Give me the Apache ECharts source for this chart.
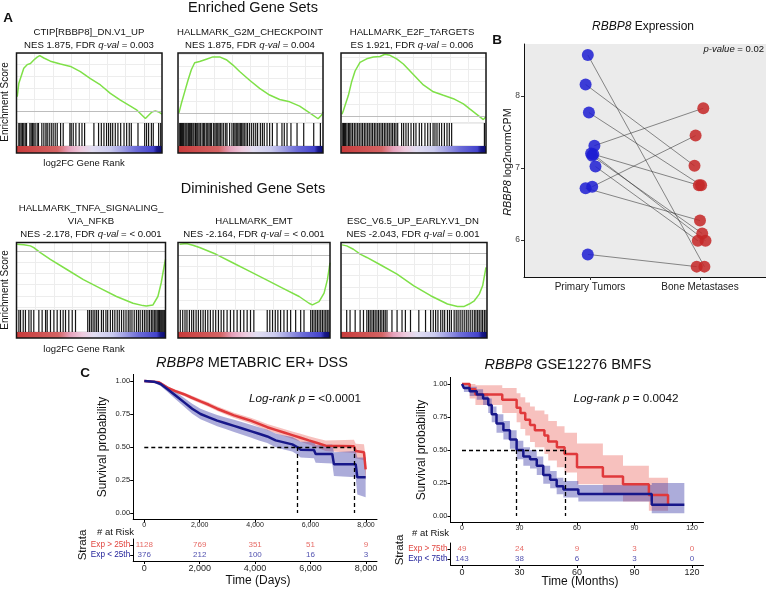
<!DOCTYPE html>
<html><head><meta charset="utf-8">
<script src="https://cdn.jsdelivr.net/npm/echarts@6/dist/echarts.min.js"></script>
<style>html,body{margin:0;padding:0;background:#fff}#c{width:766px;height:589px}</style>
</head><body><div id="c"></div>
<script>
// ======================= DATA =======================
// ---- Panel A: GSEA running enrichment scores (rank 0..1000) ----
const gsea1X = [5,16,32,50,73,96,119,142,160,188,233,302,371,439,508,577,645,714,783,828,863,886,908,931,954,977,1000];
const gsea1Y = [0.125,0.24,0.30,0.37,0.40,0.41,0.44,0.465,0.477,0.457,0.43,0.405,0.385,0.34,0.28,0.226,0.154,0.096,0.044,0.01,-0.034,-0.062,-0.034,-0.005,0.004,-0.005,-0.025];
const gsea2X = [5,23,46,69,92,115,149,195,241,287,333,379,425,494,563,632,701,770,839,908,966,989,1000];
const gsea2Y = [-0.006,0.08,0.18,0.28,0.37,0.43,0.44,0.46,0.48,0.48,0.456,0.41,0.355,0.28,0.21,0.153,0.115,0.095,0.058,0.0,-0.05,-0.02,0.009];
const gsea3X = [7,16,51,74,97,131,177,223,269,303,338,384,430,499,568,637,706,775,844,890,936,982,998];
const gsea3Y = [0.015,0.045,0.178,0.297,0.386,0.46,0.49,0.505,0.51,0.529,0.52,0.49,0.446,0.356,0.267,0.208,0.178,0.149,0.104,0.059,0.015,-0.03,-0.006];
const gsea4X = [4,49,93,116,160,227,338,449,560,671,782,849,871,916,949,971,993,1000];
const gsea4Y = [0.06,0.054,0.045,0.03,-0.015,-0.075,-0.165,-0.255,-0.33,-0.405,-0.465,-0.486,-0.489,-0.48,-0.405,-0.285,-0.12,-0.075];
const gsea5X = [11,55,98,142,251,360,469,579,688,797,862,884,928,961,983,1000];
const gsea5Y = [0.099,0.105,0.09,0.069,0.009,-0.066,-0.141,-0.216,-0.291,-0.366,-0.426,-0.441,-0.411,-0.336,-0.216,-0.066];
const gsea6X = [7,39,85,131,177,269,384,499,614,729,798,844,878,913,947,970,993];
const gsea6Y = [0.074,0.065,0.035,-0.009,-0.038,-0.103,-0.186,-0.29,-0.378,-0.452,-0.473,-0.473,-0.452,-0.423,-0.364,-0.29,-0.127];

// hit positions (gene ranks 0..1000)
const gsea1Hits = [16,23,32,41,50,60,69,92,101,110,119,128,142,151,174,188,202,211,225,239,252,266,280,303,321,367,376,390,408,431,450,468,532,564,583,601,619,633,647,661,679,697,716,739,757,775,789,835,881,894,908,927,940,977,991];
const gsea2Hits = [12,18,25,32,39,48,55,62,71,78,85,94,103,110,120,126,136,145,154,166,175,184,195,205,214,223,232,246,255,264,274,283,292,303,315,329,338,356,372,384,393,402,412,421,430,439,448,457,469,480,494,508,522,536,549,568,582,595,614,632,651,683,717,733,752,779,821,867,936,982];
const gsea3Hits = [12,18,25,32,41,51,60,69,80,92,103,115,126,138,149,161,172,184,195,207,218,230,241,253,264,276,287,299,310,322,333,345,356,368,379,391,418,432,448,464,483,501,517,540,556,579,598,616,635,648,662,678,694,713,731,747,763,989];
const gsea4Hits = [16,27,45,60,83,98,116,150,172,195,206,228,251,273,295,313,329,351,374,396,478,490,502,514,526,538,550,570,583,600,612,630,645,660,676,690,705,720,735,750,762,775,790,805,818,830,845,858,870,882,893,905,915,925,935,944,952,960,968,975,982,989,995];
const gsea5Hits = [15,31,46,59,75,90,103,119,134,149,165,180,196,213,231,248,266,284,301,323,345,367,389,411,433,455,477,499,587,604,622,640,657,675,697,719,741,774,807,829,873,884,895,906,917,928,939,950,961,972,982,993];
const gsea6Hits = [39,62,97,131,154,177,189,200,212,223,234,246,257,269,280,292,303,315,349,384,418,441,476,533,579,614,632,648,664,683,697,710,729,743,756,775,789,802,816,830,844,858,871,885,899,913,924,936,947,959,970,982,993];

const gseaSetNames = [
  ['CTIP[RBBP8]_DN.V1_UP', 'NES 1.875, FDR {i|q-val} = 0.003'],
  ['HALLMARK_G2M_CHECKPOINT', 'NES 1.875, FDR {i|q-val} = 0.004'],
  ['HALLMARK_E2F_TARGETS', 'ES 1.921, FDR {i|q-val} = 0.006'],
  ['HALLMARK_TNFA_SIGNALING_', 'VIA_NFKB', 'NES -2.178, FDR {i|q-val} = < 0.001'],
  ['HALLMARK_EMT', 'NES -2.164, FDR {i|q-val} = < 0.001'],
  ['ESC_V6.5_UP_EARLY.V1_DN', 'NES -2.043, FDR {i|q-val} = 0.001']
];

// ---- Panel B: RBBP8 expression, paired samples ----
const groupNames = ['Primary Tumors', 'Bone Metastases'];
const primaryVals = [8.57, 8.16, 7.77, 7.31, 7.20, 7.17, 7.19, 7.02, 6.74, 6.72, 5.80];
const primaryPos  = [0.98, 0.96, 0.99, 1.04, 1.01, 1.02, 1.03, 1.05, 1.02, 0.96, 0.98];
const boneVals    = [5.63, 7.03, 6.76, 7.83, 6.76, 6.09, 5.99, 5.99, 7.45, 6.27, 5.63];
const bonePos     = [2.04, 1.95, 2.01, 2.03, 1.99, 2.02, 2.05, 1.98, 1.96, 2.00, 1.97];
const exprTicks = [6, 7, 8];

// ---- Panel C left: METABRIC ER+ DSS (days) ----
const metHighT  = [0,530,830,1100,1430,1700,2030,2330,2630,2930,3240,3540,3840,4140,4440,4740,5040,5340,5640,5940,6245,6545,7570,7630,7930,7990,8000];
const metHighS  = [1.0,0.99,0.95,0.925,0.90,0.875,0.846,0.82,0.79,0.765,0.74,0.72,0.70,0.675,0.65,0.63,0.61,0.59,0.57,0.55,0.53,0.51,0.505,0.47,0.46,0.33,0.33];
const metHighLo = [1.0,0.985,0.94,0.913,0.887,0.86,0.83,0.803,0.772,0.746,0.72,0.699,0.678,0.652,0.626,0.605,0.583,0.562,0.54,0.518,0.495,0.47,0.455,0.415,0.40,0.25,0.25];
const metHighHi = [1.0,0.995,0.96,0.937,0.913,0.89,0.862,0.837,0.808,0.784,0.76,0.741,0.722,0.698,0.674,0.655,0.637,0.618,0.60,0.582,0.565,0.55,0.555,0.525,0.52,0.42,0.42];
const metLowT   = [0,350,590,830,1130,1430,1730,2030,2330,2630,2935,3240,3540,3840,4140,4440,4740,5040,5340,5520,5640,6125,6185,6785,6845,7630,7690,7990];
const metLowS   = [1.0,0.995,0.977,0.94,0.89,0.84,0.79,0.75,0.725,0.70,0.68,0.66,0.64,0.62,0.60,0.58,0.55,0.535,0.52,0.50,0.48,0.477,0.447,0.447,0.37,0.37,0.27,0.27];
const metLowLo  = [1.0,0.99,0.962,0.918,0.862,0.806,0.752,0.71,0.684,0.658,0.636,0.614,0.593,0.572,0.55,0.53,0.498,0.482,0.465,0.443,0.42,0.415,0.38,0.375,0.28,0.27,0.14,0.12];
const metLowHi  = [1.0,1.0,0.992,0.962,0.918,0.874,0.828,0.79,0.766,0.742,0.724,0.706,0.687,0.668,0.65,0.63,0.602,0.588,0.575,0.557,0.54,0.539,0.514,0.519,0.46,0.47,0.42,0.42];
const metMedians = [5520, 7570];
const metTicks = [0, 2000, 4000, 6000, 8000];
const metRiskHigh = [1128, 769, 351, 51, 9];
const metRiskLow  = [376, 212, 100, 16, 3];
const metStrata = ['Exp < 25th', 'Exp > 25th'];

// ---- Panel C right: GSE12276 BMFS (months) ----
const gseHighT  = [0,4,7,21,28.5,30.5,33,35.5,38,43,45,49.5,53.5,60,73.5,84,97.5,107.5];
const gseHighS  = [1.0,0.96,0.92,0.88,0.82,0.78,0.73,0.69,0.65,0.61,0.565,0.52,0.47,0.37,0.30,0.24,0.16,0.08];
const gseHighLo = [1.0,0.89,0.84,0.78,0.71,0.66,0.61,0.56,0.52,0.47,0.42,0.37,0.33,0.24,0.17,0.11,0.04,0.0];
const gseHighHi = [1.0,1.0,0.99,0.97,0.93,0.90,0.86,0.83,0.80,0.77,0.72,0.68,0.63,0.55,0.46,0.38,0.29,0.29];
const gseLowT   = [0,1,4,7.7,11,13.7,15.5,18,21.6,25,28.5,32,35.5,39,42.4,46,49.4,52.9,60.7,99,116];
const gseLowS   = [1.0,0.97,0.945,0.92,0.89,0.84,0.77,0.70,0.65,0.58,0.50,0.45,0.43,0.38,0.31,0.275,0.225,0.20,0.167,0.086,0.086];
const gseLowLo  = [1.0,0.94,0.91,0.88,0.84,0.78,0.71,0.63,0.58,0.51,0.43,0.38,0.36,0.31,0.245,0.21,0.165,0.14,0.11,0.02,0.02];
const gseLowHi  = [1.0,1.0,0.98,0.96,0.93,0.89,0.83,0.77,0.72,0.65,0.57,0.52,0.50,0.45,0.38,0.34,0.29,0.265,0.235,0.25,0.25];
const gseMedians = [28.3, 53.8];
const gseTicks = [0, 30, 60, 90, 120];
const gseRiskHigh = [49, 24, 9, 3, 0];
const gseRiskLow  = [143, 38, 6, 3, 0];
const gseStrata = ['Exp < 75th', 'Exp > 75th'];

const survTicks = [0, 0.25, 0.5, 0.75, 1];
const medianLevel = 0.5;

// ======================= BUILD =======================
const FONT = '"Liberation Sans", Arial, Helvetica, sans-serif';
const grids = [], xAxis = [], yAxis = [], series = [], graphics = [];
function addGrid(g, xa, ya) {
  const i = grids.length;
  grids.push(g);
  xAxis.push(Object.assign({gridIndex: i}, xa));
  yAxis.push(Object.assign({gridIndex: i}, ya));
  return i;
}
const hid = (min, max) => ({type: 'value', min, max, show: false, splitLine: {show: false}});
function T(x, y, text, size, o) {
  o = o || {};
  const fill = o.color || '#111';
  const style = {text, fontSize: size, fontFamily: FONT, fontWeight: o.bold ? 'bold' : 'normal',
    fontStyle: o.italic ? 'italic' : 'normal', fill, align: o.align || 'center', verticalAlign: 'middle'};
  style.rich = {i: {fontSize: size, fontFamily: FONT, fontStyle: 'italic', fill}};
  graphics.push({type: 'text', x, y, rotation: o.rot || 0, style, z: 100, silent: true});
}

// ---------- Panel A ----------
const gseaX = [gsea1X, gsea2X, gsea3X, gsea4X, gsea5X, gsea6X];
const gseaY = [gsea1Y, gsea2Y, gsea3Y, gsea4Y, gsea5Y, gsea6Y];
const gseaHits = [gsea1Hits, gsea2Hits, gsea3Hits, gsea4Hits, gsea5Hits, gsea6Hits];
const gseaLayout = [
  {x: 16.5, w: 145.5, top: 53, curveH: 70, hitsH: 23, barH: 7, ymin: -0.1, ymax: 0.5},
  {x: 178, w: 145, top: 53, curveH: 70, hitsH: 23, barH: 7, ymin: -0.0865, ymax: 0.5135},
  {x: 341, w: 145, top: 53, curveH: 70, hitsH: 23, barH: 7, ymin: -0.059, ymax: 0.54},
  {x: 16.5, w: 149, top: 242.5, curveH: 67.5, hitsH: 22, barH: 6, ymin: -0.525, ymax: 0.075},
  {x: 178, w: 152, top: 242.5, curveH: 67.5, hitsH: 22, barH: 6, ymin: -0.486, ymax: 0.114},
  {x: 341, w: 146, top: 242.5, curveH: 67.5, hitsH: 22, barH: 6, ymin: -0.505, ymax: 0.095}
];
const rankStops = [
  [0, '#c83a3a'], [0.28, '#d46464'], [0.36, '#e6a2bc'], [0.44, '#eecadd'], [0.52, '#e2def2'],
  [0.64, '#cbcbef'], [0.72, '#a3a3e4'], [0.82, '#6c6cd8'], [0.94, '#4343cc'], [0.965, '#18188a'], [1, '#0a0a6e']
];
gseaLayout.forEach((L, k) => {
  const ci = addGrid({left: L.x, top: L.top, width: L.w, height: L.curveH},
    {type: 'value', min: 0, max: 1000, interval: 125, axisLine: {show: false}, axisTick: {show: false},
     axisLabel: {show: false}, splitLine: {show: true, lineStyle: {color: '#ededed', width: 1}}},
    {type: 'value', min: L.ymin, max: L.ymax, splitNumber: 6, axisLine: {show: false}, axisTick: {show: false},
     axisLabel: {show: false}, splitLine: {show: true, lineStyle: {color: '#ededed', width: 1}}});
  series.push({type: 'line', xAxisIndex: ci, yAxisIndex: ci, symbol: 'none', silent: true, z: 3,
    data: gseaX[k].map((x, i) => [x, gseaY[k][i]]),
    lineStyle: {color: '#7fe048', width: 1.5},
    markLine: {silent: true, symbol: 'none', label: {show: false}, animation: false,
      lineStyle: {color: '#bdbdbd', type: 'solid', width: 1}, data: [{yAxis: 0}]}});
  const hi = addGrid({left: L.x, top: L.top + L.curveH, width: L.w, height: L.hitsH, show: true,
      borderColor: '#d0d0d0', borderWidth: 1}, hid(0, 1000), hid(0, 1));
  series.push({type: 'custom', xAxisIndex: hi, yAxisIndex: hi, silent: true, z: 3,
    data: gseaHits[k].map(h => [h, 1]),
    renderItem: (p, api) => {
      const a = api.coord([api.value(0), 0]), b = api.coord([api.value(0), 1]);
      return {type: 'line', shape: {x1: a[0], y1: a[1], x2: b[0], y2: b[1]},
        style: {stroke: '#000', lineWidth: 1.2, opacity: 0.92}};
    }});
  const bi = addGrid({left: L.x, top: L.top + L.curveH + L.hitsH, width: L.w, height: L.barH}, hid(0, 1000), hid(0, 1));
  series.push({type: 'custom', xAxisIndex: bi, yAxisIndex: bi, silent: true, z: 3,
    data: [[0, 1000]],
    renderItem: (p, api) => {
      const a = api.coord([api.value(0), 1]), b = api.coord([api.value(1), 0]);
      return {type: 'rect', shape: {x: a[0], y: a[1], width: b[0] - a[0], height: b[1] - a[1]},
        style: {fill: new echarts.graphic.LinearGradient(0, 0, 1, 0,
          rankStops.map(s => ({offset: s[0], color: s[1]})))}};
    }});
  addGrid({left: L.x, top: L.top, width: L.w, height: L.curveH + L.hitsH + L.barH, show: true,
    borderColor: '#161616', borderWidth: 1.5, backgroundColor: 'transparent', z: 10}, hid(0, 1), hid(0, 1));
});

// Panel A texts
T(8, 18, 'A', 13.5, {bold: true});
T(253, 8, 'Enriched Gene Sets', 14.5);
T(253, 189, 'Diminished Gene Sets', 14.5);
const gseaTitlePos = [[89, [32, 45]], [250, [32, 45]], [412, [32, 45]], [91, [208, 221, 234]], [254, [221, 234]], [413, [221, 234]]];
gseaSetNames.forEach((lines, k) => {
  lines.forEach((s, j) => T(gseaTitlePos[k][0], gseaTitlePos[k][1][j], s, 9.6));
});
T(5, 102, 'Enrichment Score', 10, {rot: Math.PI / 2});
T(5, 290, 'Enrichment Score', 10, {rot: Math.PI / 2});
T(84, 163, 'log2FC Gene Rank', 9.5);
T(84, 349, 'log2FC Gene Rank', 9.5);

// ---------- Panel B ----------
const gb = addGrid({left: 524, top: 44, width: 242, height: 233, show: true, backgroundColor: '#ebebeb', borderWidth: 0},
  {type: 'value', min: 0.4, max: 2.6,
   axisLine: {show: true, onZero: false, lineStyle: {color: '#111', width: 1}},
   axisTick: {show: true, customValues: [1, 2], length: 3, lineStyle: {color: '#333'}},
   axisLabel: {customValues: [1, 2], formatter: v => groupNames[Math.round(v) - 1], fontSize: 10, color: '#222', margin: 5, fontFamily: FONT},
   splitLine: {show: false}},
  {type: 'value', min: 5.486, max: 8.722,
   axisLine: {show: true, onZero: false, lineStyle: {color: '#111', width: 1}},
   axisTick: {show: true, customValues: exprTicks, length: 3, lineStyle: {color: '#333'}},
   axisLabel: {customValues: exprTicks, fontSize: 8.5, color: '#444', margin: 4, fontFamily: FONT},
   splitLine: {show: false}});
series.push({type: 'lines', coordinateSystem: 'cartesian2d', xAxisIndex: gb, yAxisIndex: gb, silent: true, z: 2,
  data: primaryVals.map((v, i) => ({coords: [[primaryPos[i], v], [bonePos[i], boneVals[i]]]})),
  lineStyle: {color: '#2a2a2a', width: 0.6, opacity: 0.9}});
series.push({type: 'scatter', xAxisIndex: gb, yAxisIndex: gb, symbolSize: 12, z: 3,
  data: primaryVals.map((v, i) => [primaryPos[i], v]), itemStyle: {color: '#1d1dd2', opacity: 0.85}});
series.push({type: 'scatter', xAxisIndex: gb, yAxisIndex: gb, symbolSize: 12, z: 3,
  data: boneVals.map((v, i) => [bonePos[i], v]), itemStyle: {color: '#c42626', opacity: 0.85}});
T(497, 40, 'B', 13.5, {bold: true});
T(643, 27, '{i|RBBP8} Expression', 12);
T(764, 49, '{i|p-value} = 0.02', 9.5, {align: 'right'});
T(508, 162, '{i|RBBP8} log2normCPM', 10.8, {rot: Math.PI / 2});

// ---------- Panel C ----------
function band(gi, Tm, lo, hi, color, op, stepped) {
  return {type: 'custom', xAxisIndex: gi, yAxisIndex: gi, silent: true, clip: true, z: 1,
    data: [[Tm[0], lo[0]]],
    renderItem: (p, api) => {
      const up = [], dn = [];
      for (let i = 0; i < Tm.length; i++) {
        up.push(api.coord([Tm[i], hi[i]]));
        dn.push(api.coord([Tm[i], lo[i]]));
        if (stepped) {
          const tn = i < Tm.length - 1 ? Tm[i + 1] : Tm[i];
          up.push(api.coord([tn, hi[i]]));
          dn.push(api.coord([tn, lo[i]]));
        }
      }
      return {type: 'polygon', shape: {points: up.concat(dn.reverse())}, style: {fill: color, opacity: op}};
    }};
}
function kmPanel(L, D) {
  const xa = (fs, margin) => ({type: 'value', min: L.xmin, max: L.xmax,
    axisLine: {show: true, onZero: false, lineStyle: {color: '#000', width: 1}},
    axisTick: {show: true, customValues: D.ticks, length: 3, lineStyle: {color: '#000'}},
    axisLabel: {customValues: D.ticks, fontSize: fs, color: '#222', margin, fontFamily: FONT},
    splitLine: {show: false}});
  const mi = addGrid({left: L.left, top: L.top, width: L.w, height: L.h}, xa(7, 2),
    {type: 'value', min: -0.05, max: 1.05,
     axisLine: {show: true, onZero: false, lineStyle: {color: '#000', width: 1}},
     axisTick: {show: true, customValues: survTicks, length: 3, lineStyle: {color: '#000'}},
     axisLabel: {customValues: survTicks, formatter: v => v.toFixed(2), fontSize: 7.5, color: '#222', margin: 3, fontFamily: FONT},
     splitLine: {show: false}});
  const st = L.stepped ? 'end' : false;
  series.push(band(mi, D.hT, D.hLo, D.hHi, '#e8524c', 0.36, L.stepped));
  series.push(band(mi, D.lT, D.lLo, D.lHi, '#3a3aa8', 0.42, L.stepped));
  series.push({type: 'line', xAxisIndex: mi, yAxisIndex: mi, step: st, symbol: 'none', silent: true, z: 3,
    data: D.hT.map((t, i) => [t, D.hS[i]]), lineStyle: {color: '#e0393b', width: 2.5}});
  series.push({type: 'line', xAxisIndex: mi, yAxisIndex: mi, step: st, symbol: 'none', silent: true, z: 4,
    data: D.lT.map((t, i) => [t, D.lS[i]]), lineStyle: {color: '#17178a', width: 2.5}});
  const mx = Math.max.apply(null, D.med);
  const segs = [{coords: [[0, medianLevel], [mx, medianLevel]]}].concat(D.med.map(m => ({coords: [[m, medianLevel], [m, 0]]})));
  series.push({type: 'lines', coordinateSystem: 'cartesian2d', xAxisIndex: mi, yAxisIndex: mi, silent: true, z: 5,
    data: segs, lineStyle: {color: '#000', width: 1.3, type: [4, 3], opacity: 1}});
  const ri = addGrid({left: L.left, top: L.rTop, width: L.w, height: 22}, xa(9, 3.5),
    {type: 'value', min: 0.4, max: 2.6,
     axisLine: {show: true, onZero: false, lineStyle: {color: '#000', width: 1}},
     axisTick: {show: true, customValues: [1, 2], length: 3, lineStyle: {color: '#000'}},
     axisLabel: {customValues: [1, 2], formatter: v => D.strata[Math.round(v) - 1], fontSize: 8.2, margin: 3, fontFamily: FONT,
       color: v => (Math.round(v) === 2 ? '#e0453f' : '#23239a')},
     splitLine: {show: false}});
  [[D.rHigh, 2, '#e0453f'], [D.rLow, 1, '#23239a']].forEach(([arr, row, col]) => {
    series.push({type: 'scatter', xAxisIndex: ri, yAxisIndex: ri, symbolSize: 1, silent: true, z: 3,
      itemStyle: {color: 'rgba(0,0,0,0)'},
      data: D.ticks.map((t, i) => [t, row, arr[i]]),
      label: {show: true, position: 'inside', formatter: p => String(p.value[2]), color: col, fontSize: 8, fontFamily: FONT}});
  });
}
kmPanel({left: 133.2, top: 374.4, w: 243.8, h: 145.2, xmin: -400, xmax: 8400, rTop: 539, stepped: false},
  {hT: metHighT, hS: metHighS, hLo: metHighLo, hHi: metHighHi, lT: metLowT, lS: metLowS, lLo: metLowLo, lHi: metLowHi,
   med: metMedians, ticks: metTicks, rHigh: metRiskHigh, rLow: metRiskLow, strata: metStrata});
kmPanel({left: 450.5, top: 377.4, w: 253, h: 145.2, xmin: -6, xmax: 126, rTop: 543, stepped: true},
  {hT: gseHighT, hS: gseHighS, hLo: gseHighLo, hHi: gseHighHi, lT: gseLowT, lS: gseLowS, lLo: gseLowLo, lHi: gseLowHi,
   med: gseMedians, ticks: gseTicks, rHigh: gseRiskHigh, rLow: gseRiskLow, strata: gseStrata});

T(85, 373, 'C', 13.5, {bold: true});
T(252, 363, '{i|RBBP8} METABRIC ER+ DSS', 14.5);
T(568, 365, '{i|RBBP8} GSE12276 BMFS', 14.5);
T(103, 447, 'Survival probability', 12, {rot: Math.PI / 2});
T(422, 450, 'Survival probability', 12, {rot: Math.PI / 2});
T(305, 399, '{i|Log-rank p} = <0.0001', 11.7);
T(626, 399, '{i|Log-rank p} = 0.0042', 11.7);
T(97, 532, '# at Risk', 9.5, {align: 'left'});
T(412, 533, '# at Risk', 9.5, {align: 'left'});
T(83, 545, 'Strata', 11.5, {rot: Math.PI / 2});
T(400, 550, 'Strata', 11.5, {rot: Math.PI / 2});
T(258, 581, 'Time (Days)', 12);
T(580, 582, 'Time (Months)', 12);

const chart = echarts.init(document.getElementById('c'), null, {renderer: 'canvas'});
chart.setOption({animation: false, backgroundColor: '#ffffff', grid: grids, xAxis, yAxis, series, graphic: graphics});
</script></body></html>
